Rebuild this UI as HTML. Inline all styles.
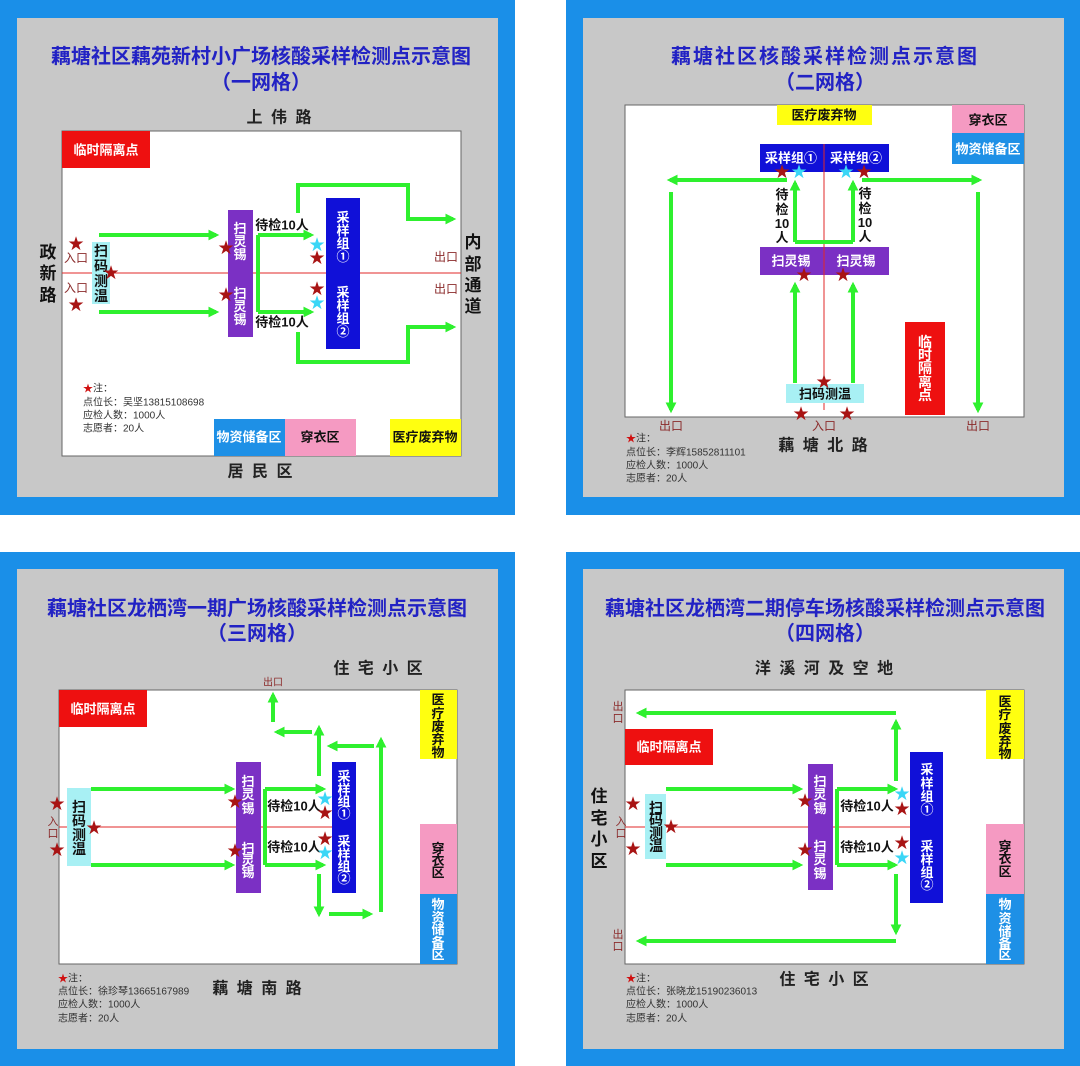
<!DOCTYPE html>
<html><head><meta charset="utf-8"><style>
html,body{margin:0;padding:0;background:#fff;}
svg{display:block;}
text{font-family:"Liberation Sans","Noto Sans CJK SC",sans-serif;font-weight:bold;dominant-baseline:central;}
.t{fill:#2222c4;font-size:20px;text-anchor:middle;}
.rd{fill:#222;font-size:16px;text-anchor:middle;letter-spacing:2px;}
.w{fill:#fff;font-size:13px;text-anchor:middle;}
.k{fill:#111;font-size:13px;text-anchor:middle;}
.ex{fill:#8b2b2b;font-size:12px;text-anchor:middle;font-weight:normal;}
.n{fill:#333;font-size:10px;font-weight:normal;}
.sr{fill:#a81414;font-size:19px;text-anchor:middle;font-family:"DejaVu Sans",sans-serif;font-weight:normal;}
.sc{fill:#3ad6f6;font-size:19px;text-anchor:middle;font-family:"DejaVu Sans",sans-serif;font-weight:normal;}
.g{stroke:#2ef02e;stroke-width:4;fill:none;}
.ga{stroke:#2ef02e;stroke-width:4;fill:none;marker-end:url(#a);}
.rl{stroke:#e02828;stroke-width:1;}
</style></head><body>
<svg width="1080" height="1066" viewBox="0 0 1080 1066" xmlns="http://www.w3.org/2000/svg">
<defs><marker id="a" viewBox="0 0 10 10" refX="7" refY="5" markerWidth="11" markerHeight="11" markerUnits="userSpaceOnUse" orient="auto"><path d="M0,0 L10,5 L0,10 z" fill="#2ef02e"/></marker></defs>

<!-- PANEL 1 -->
<rect x="0" y="0" width="515" height="515" fill="#1a8fe8"/>
<rect x="17" y="18" width="481" height="479" fill="#c8c8c8"/>
<text class="t" x="261" y="57">藕塘社区藕苑新村小广场核酸采样检测点示意图</text>
<text class="t" x="261" y="83">（一网格）</text>
<text class="rd" x="280" y="118">上 伟 路</text>
<rect x="62" y="131" width="399" height="325" fill="#fff" stroke="#666" stroke-width="1"/>
<rect x="62" y="131" width="88" height="37" fill="#ee1010"/>
<text class="w" x="106" y="150">临时隔离点</text>
<line class="rl" x1="62" y1="273" x2="461" y2="273"/>
<text class="k" style="font-size:17px" x="48"><tspan x="48" y="252">政</tspan><tspan x="48" y="273">新</tspan><tspan x="48" y="295">路</tspan></text>
<text class="ex" x="76" y="258">入口</text><text class="ex" x="76" y="288">入口</text>
<rect x="92" y="242" width="18" height="62" fill="#a8f0f4"/>
<text class="k" style="font-size:14px"><tspan x="101" y="251">扫</tspan><tspan x="101" y="266">码</tspan><tspan x="101" y="281">测</tspan><tspan x="101" y="296">温</tspan></text>
<path class="ga" d="M99,235 H216"/><path class="ga" d="M99,312 H216"/>
<rect x="228" y="210" width="25" height="127" fill="#7b30c4"/>
<text class="w"><tspan x="240" y="228">扫</tspan><tspan x="240" y="241">灵</tspan><tspan x="240" y="254">锡</tspan><tspan x="240" y="293">扫</tspan><tspan x="240" y="306">灵</tspan><tspan x="240" y="319">锡</tspan></text>
<text class="k" x="282" y="225">待检10人</text><text class="k" x="282" y="322">待检10人</text>
<path class="g" d="M258,235 V312"/><path class="ga" d="M258,235 H311"/><path class="ga" d="M258,312 H311"/>
<path class="ga" d="M298,213 V185 H408 V219 H453"/>
<path class="ga" d="M298,332 V362 H408 V327 H453"/>
<rect x="326" y="198" width="34" height="151" fill="#1010d8"/>
<text class="w"><tspan x="343" y="217">采</tspan><tspan x="343" y="230">样</tspan><tspan x="343" y="243">组</tspan><tspan x="343" y="256">①</tspan><tspan x="343" y="292">采</tspan><tspan x="343" y="305">样</tspan><tspan x="343" y="318">组</tspan><tspan x="343" y="331">②</tspan></text>
<text class="ex" x="446" y="257">出口</text><text class="ex" x="446" y="289">出口</text>
<text class="k" style="font-size:17px"><tspan x="473" y="242">内</tspan><tspan x="473" y="264">部</tspan><tspan x="473" y="285">通</tspan><tspan x="473" y="306">道</tspan></text>
<text class="sr" x="76" y="244">★</text><text class="sr" x="76" y="305">★</text><text class="sr" x="111" y="273">★</text>
<text class="sr" x="226" y="248">★</text><text class="sr" x="226" y="295">★</text>
<text class="sc" x="317" y="245">★</text><text class="sr" x="317" y="258">★</text><text class="sr" x="317" y="289">★</text><text class="sc" x="317" y="303">★</text>
<text class="n" x="83" y="389"><tspan fill="#d01010">★</tspan>注：</text>
<text class="n" x="83" y="403">点位长：吴坚13815108698</text>
<text class="n" x="83" y="416">应检人数：1000人</text>
<text class="n" x="83" y="429">志愿者：20人</text>
<rect x="214" y="419" width="71" height="37" fill="#1e90e6"/><text class="w" x="249" y="437">物资储备区</text>
<rect x="285" y="419" width="71" height="37" fill="#f59ac2"/><text class="k" x="320" y="437">穿衣区</text>
<rect x="390" y="419" width="71" height="37" fill="#ffff10"/><text class="k" x="425" y="437">医疗废弃物</text>
<text class="rd" x="261" y="472">居 民 区</text>

<!-- PANEL 2 -->
<rect x="566" y="0" width="514" height="515" fill="#1a8fe8"/>
<rect x="583" y="18" width="481" height="479" fill="#c8c8c8"/>
<text class="t" x="825" y="57" style="letter-spacing:2px">藕塘社区核酸采样检测点示意图</text>
<text class="t" x="825" y="83">（二网格）</text>
<rect x="625" y="105" width="399" height="312" fill="#fff" stroke="#666" stroke-width="1"/>
<rect x="777" y="105" width="95" height="20" fill="#ffff10"/><text class="k" x="824" y="115">医疗废弃物</text>
<rect x="952" y="105" width="72" height="28" fill="#f59ac2"/><text class="k" x="988" y="120">穿衣区</text>
<rect x="952" y="133" width="72" height="31" fill="#1e90e6"/><text class="w" x="988" y="149">物资储备区</text>
<rect x="760" y="144" width="129" height="28" fill="#1010d8"/>
<text class="w" x="791" y="158">采样组①</text><text class="w" x="856" y="158">采样组②</text>
<rect x="760" y="247" width="129" height="28" fill="#7b30c4"/>
<text class="w" x="791" y="261">扫灵锡</text><text class="w" x="856" y="261">扫灵锡</text>
<line class="rl" x1="824" y1="144" x2="824" y2="410"/>
<path class="ga" d="M787,180 H670"/><path class="ga" d="M862,180 H979"/>
<path class="ga" d="M671,192 V410"/><path class="ga" d="M978,192 V410"/>
<path class="g" d="M795,242 H853"/><path class="ga" d="M795,242 V183"/><path class="ga" d="M853,242 V183"/>
<path class="ga" d="M795,383 V285"/><path class="ga" d="M853,383 V285"/>
<text class="k"><tspan x="782" y="194">待</tspan><tspan x="782" y="209">检</tspan><tspan x="782" y="223">10</tspan><tspan x="782" y="237">人</tspan></text>
<text class="k"><tspan x="865" y="193">待</tspan><tspan x="865" y="208">检</tspan><tspan x="865" y="222">10</tspan><tspan x="865" y="236">人</tspan></text>
<rect x="786" y="384" width="78" height="19" fill="#a8f0f4"/><text class="k" x="825" y="394">扫码测温</text>
<rect x="905" y="322" width="40" height="93" fill="#ee1010"/>
<text class="w" style="font-size:14px"><tspan x="925" y="342">临</tspan><tspan x="925" y="355">时</tspan><tspan x="925" y="368">隔</tspan><tspan x="925" y="382">离</tspan><tspan x="925" y="395">点</tspan></text>
<text class="sr" x="782" y="172">★</text><text class="sc" x="799" y="172">★</text><text class="sc" x="846" y="172">★</text><text class="sr" x="864" y="172">★</text>
<text class="sr" x="804" y="275">★</text><text class="sr" x="843" y="275">★</text>
<text class="sr" x="824" y="382">★</text><text class="sr" x="801" y="414">★</text><text class="sr" x="847" y="414">★</text>
<text class="ex" x="671" y="426">出口</text><text class="ex" x="824" y="426">入口</text><text class="ex" x="978" y="426">出口</text>
<text class="rd" x="824" y="446">藕 塘 北 路</text>
<text class="n" x="626" y="439"><tspan fill="#d01010">★</tspan>注：</text>
<text class="n" x="626" y="453">点位长：李辉15852811101</text>
<text class="n" x="626" y="466">应检人数：1000人</text>
<text class="n" x="626" y="479">志愿者：20人</text>

<!-- PANEL 3 -->
<rect x="0" y="552" width="515" height="514" fill="#1a8fe8"/>
<rect x="17" y="569" width="481" height="480" fill="#c8c8c8"/>
<text class="t" x="257" y="609">藕塘社区龙栖湾一期广场核酸采样检测点示意图</text>
<text class="t" x="257" y="634">（三网格）</text>
<text class="rd" x="379" y="669">住 宅 小 区</text>
<rect x="59" y="690" width="398" height="274" fill="#fff" stroke="#666" stroke-width="1"/>
<rect x="59" y="690" width="88" height="37" fill="#ee1010"/><text class="w" x="103" y="709">临时隔离点</text>
<rect x="420" y="690" width="37" height="69" fill="#ffff10"/>
<text class="k"><tspan x="438" y="699">医</tspan><tspan x="438" y="713">疗</tspan><tspan x="438" y="726">废</tspan><tspan x="438" y="739">弃</tspan><tspan x="438" y="752">物</tspan></text>
<rect x="420" y="824" width="37" height="70" fill="#f59ac2"/>
<text class="k"><tspan x="438" y="848">穿</tspan><tspan x="438" y="860">衣</tspan><tspan x="438" y="872">区</tspan></text>
<rect x="420" y="894" width="37" height="70" fill="#1e90e6"/>
<text class="w"><tspan x="438" y="904">物</tspan><tspan x="438" y="917">资</tspan><tspan x="438" y="929">储</tspan><tspan x="438" y="942">备</tspan><tspan x="438" y="954">区</tspan></text>
<line class="rl" x1="59" y1="827" x2="356" y2="827"/>
<text class="ex" style="font-size:11px"><tspan x="53" y="822">入</tspan><tspan x="53" y="834">口</tspan></text>
<rect x="67" y="788" width="24" height="78" fill="#a8f0f4"/>
<text class="k" style="font-size:14px"><tspan x="79" y="807">扫</tspan><tspan x="79" y="821">码</tspan><tspan x="79" y="835">测</tspan><tspan x="79" y="849">温</tspan></text>
<path class="ga" d="M91,789 H232"/><path class="ga" d="M91,865 H232"/>
<rect x="236" y="762" width="25" height="131" fill="#7b30c4"/>
<text class="w"><tspan x="248" y="781">扫</tspan><tspan x="248" y="794">灵</tspan><tspan x="248" y="808">锡</tspan><tspan x="248" y="848">扫</tspan><tspan x="248" y="860">灵</tspan><tspan x="248" y="872">锡</tspan></text>
<text class="k" x="294" y="806">待检10人</text><text class="k" x="294" y="847">待检10人</text>
<path class="g" d="M265,789 V865"/><path class="ga" d="M265,789 H323"/><path class="ga" d="M265,865 H323"/>
<path class="ga" d="M319,776 V728"/><path class="ga" d="M312,732 H277"/><path class="ga" d="M273,722 V695"/>
<path class="ga" d="M319,874 V914"/><path class="ga" d="M329,914 H370"/><path class="ga" d="M381,912 V740"/><path class="ga" d="M374,746 H330"/>
<rect x="332" y="762" width="24" height="131" fill="#1010d8"/>
<text class="w"><tspan x="344" y="776">采</tspan><tspan x="344" y="789">样</tspan><tspan x="344" y="801">组</tspan><tspan x="344" y="813">①</tspan><tspan x="344" y="841">采</tspan><tspan x="344" y="854">样</tspan><tspan x="344" y="866">组</tspan><tspan x="344" y="878">②</tspan></text>
<text class="ex" style="font-size:10px" x="273" y="683">出口</text>
<text class="sr" x="57" y="804">★</text><text class="sr" x="57" y="850">★</text><text class="sr" x="94" y="828">★</text>
<text class="sr" x="235" y="802">★</text><text class="sr" x="235" y="851">★</text>
<text class="sc" x="325" y="799">★</text><text class="sr" x="325" y="813">★</text><text class="sr" x="325" y="839">★</text><text class="sc" x="325" y="853">★</text>
<text class="n" x="58" y="979"><tspan fill="#d01010">★</tspan>注：</text>
<text class="n" x="58" y="992">点位长：徐珍琴13665167989</text>
<text class="n" x="58" y="1005">应检人数：1000人</text>
<text class="n" x="58" y="1019">志愿者：20人</text>
<text class="rd" x="258" y="989">藕 塘 南 路</text>

<!-- PANEL 4 -->
<rect x="566" y="552" width="514" height="514" fill="#1a8fe8"/>
<rect x="583" y="569" width="481" height="480" fill="#c8c8c8"/>
<text class="t" x="825" y="609">藕塘社区龙栖湾二期停车场核酸采样检测点示意图</text>
<text class="t" x="825" y="634">（四网格）</text>
<text class="rd" x="825" y="669">洋 溪 河 及 空 地</text>
<rect x="625" y="690" width="399" height="274" fill="#fff" stroke="#666" stroke-width="1"/>
<rect x="625" y="729" width="88" height="36" fill="#ee1010"/><text class="w" x="669" y="747">临时隔离点</text>
<rect x="986" y="690" width="38" height="69" fill="#ffff10"/>
<text class="k"><tspan x="1005" y="701">医</tspan><tspan x="1005" y="714">疗</tspan><tspan x="1005" y="728">废</tspan><tspan x="1005" y="741">弃</tspan><tspan x="1005" y="753">物</tspan></text>
<rect x="986" y="824" width="38" height="70" fill="#f59ac2"/>
<text class="k"><tspan x="1005" y="846">穿</tspan><tspan x="1005" y="858">衣</tspan><tspan x="1005" y="871">区</tspan></text>
<rect x="986" y="894" width="38" height="70" fill="#1e90e6"/>
<text class="w"><tspan x="1005" y="904">物</tspan><tspan x="1005" y="918">资</tspan><tspan x="1005" y="931">储</tspan><tspan x="1005" y="943">备</tspan><tspan x="1005" y="954">区</tspan></text>
<text class="k" style="font-size:17px"><tspan x="599" y="796">住</tspan><tspan x="599" y="818">宅</tspan><tspan x="599" y="839">小</tspan><tspan x="599" y="861">区</tspan></text>
<text class="ex" style="font-size:11px"><tspan x="618" y="707">出</tspan><tspan x="618" y="719">口</tspan><tspan x="618" y="935">出</tspan><tspan x="618" y="947">口</tspan><tspan x="621" y="822">入</tspan><tspan x="621" y="834">口</tspan></text>
<line class="rl" x1="625" y1="827" x2="943" y2="827"/>
<path class="ga" d="M896,713 H639"/><path class="ga" d="M896,781 V722"/>
<path class="ga" d="M896,941 H639"/><path class="ga" d="M896,874 V932"/>
<rect x="645" y="794" width="21" height="65" fill="#a8f0f4"/>
<text class="k" style="font-size:14px"><tspan x="656" y="808">扫</tspan><tspan x="656" y="820">码</tspan><tspan x="656" y="833">测</tspan><tspan x="656" y="846">温</tspan></text>
<path class="ga" d="M666,789 H800"/><path class="ga" d="M666,865 H800"/>
<rect x="808" y="764" width="25" height="126" fill="#7b30c4"/>
<text class="w"><tspan x="820" y="781">扫</tspan><tspan x="820" y="794">灵</tspan><tspan x="820" y="808">锡</tspan><tspan x="820" y="846">扫</tspan><tspan x="820" y="859">灵</tspan><tspan x="820" y="873">锡</tspan></text>
<text class="k" x="867" y="806">待检10人</text><text class="k" x="867" y="847">待检10人</text>
<path class="g" d="M837,789 V865"/><path class="ga" d="M837,789 H895"/><path class="ga" d="M837,865 H895"/>
<rect x="910" y="752" width="33" height="151" fill="#1010d8"/>
<text class="w"><tspan x="927" y="769">采</tspan><tspan x="927" y="783">样</tspan><tspan x="927" y="796">组</tspan><tspan x="927" y="809">①</tspan><tspan x="927" y="846">采</tspan><tspan x="927" y="859">样</tspan><tspan x="927" y="872">组</tspan><tspan x="927" y="884">②</tspan></text>
<text class="sr" x="633" y="804">★</text><text class="sr" x="633" y="849">★</text><text class="sr" x="671" y="827">★</text>
<text class="sr" x="805" y="801">★</text><text class="sr" x="805" y="850">★</text>
<text class="sc" x="902" y="794">★</text><text class="sr" x="902" y="809">★</text><text class="sr" x="902" y="843">★</text><text class="sc" x="902" y="858">★</text>
<text class="n" x="626" y="979"><tspan fill="#d01010">★</tspan>注：</text>
<text class="n" x="626" y="992">点位长：张晓龙15190236013</text>
<text class="n" x="626" y="1005">应检人数：1000人</text>
<text class="n" x="626" y="1019">志愿者：20人</text>
<text class="rd" x="825" y="980">住 宅 小 区</text>
</svg>
</body></html>
